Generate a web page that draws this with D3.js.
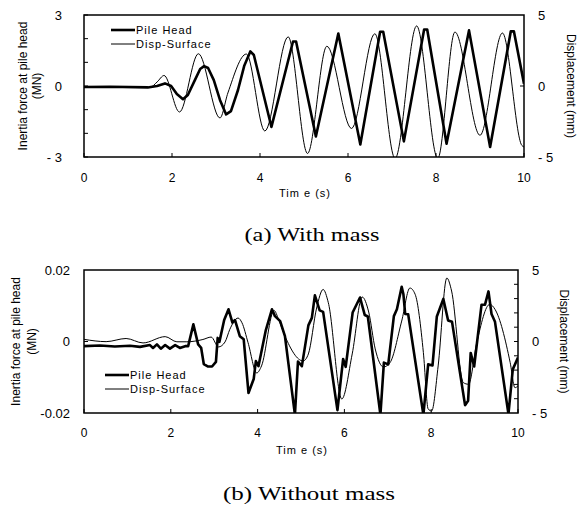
<!DOCTYPE html>
<html>
<head>
<meta charset="utf-8">
<script src="https://cdn.jsdelivr.net/npm/d3@7"></script>
<style>
body{margin:0;background:#fff;}
text{font-family:"Liberation Sans",Arial,sans-serif;fill:#000;}
.cap{font-family:"Liberation Serif","Times New Roman",serif;}
</style>
</head>
<body>
<script>
// time ticks shared by both panels
var timeTicks = [0,2,4,6,8,10];

// (a) with mass : [time s, value]
var pileHeadA = [[0,-0.04],[0.59,-0.03],[1.45,-0.06],[1.66,0.0],[1.84,0.11],[1.98,0.0],[2.11,-0.34],[2.25,-0.56],
	[2.36,-0.38],[2.52,0.25],[2.64,0.72],[2.73,0.84],[2.82,0.76],[2.95,0.25],[3.09,-0.59],[3.23,-1.2],[3.34,-1.06],
	[3.5,-0.17],[3.64,0.84],[3.78,1.46],[3.86,1.31],[4.26,-1.73],[4.75,1.88],[4.82,1.88],[5.27,-2.13],
	[5.78,2.22],[6.28,-2.47],[6.73,2.29],[6.8,2.29],[7.27,-2.34],[7.73,2.39],[7.8,2.39],[8.24,-2.44],[8.75,2.35],
	[9.23,-2.58],[9.7,2.31],[9.77,2.31],[10,0.1]];
var dispSurfaceA = [[0,-0.04],[1.5,-0.1],[1.66,0.28],[1.82,0.74],[2.17,-1.83],[2.6,2.27],[3.09,-2.25],[3.27,-0.49],
	[3.69,2.25],[4.11,-3.17],[4.64,3.46],[5.08,-4.75],[5.52,2.8],[6.08,-2.99],[6.61,3.68],[7.07,-5.1],[7.56,4.23],
	[8.04,-5.1],[8.43,3.8],[9.0,-3.47],[9.51,3.73],[9.95,-4.18],[10,-4.3]];

// (b) without mass
var pileHeadB = [[0,-0.0013],[0.37,-0.0011],[0.71,-0.0014],[1.06,-0.0012],[1.29,-0.0015],[1.52,-0.001],[1.59,-0.0018],
	[1.68,-0.0008],[1.77,-0.002],[1.87,-0.001],[1.98,-0.002],[2.1,-0.001],[2.21,-0.0018],[2.33,-0.0013],[2.4,-0.0013],
	[2.52,0.0048],[2.63,-0.0008],[2.7,-0.0018],[2.76,-0.0063],[2.86,-0.007],[2.95,-0.007],[3.04,-0.0057],[3.08,0.001],
	[3.12,-0.0001],[3.23,0.006],[3.33,0.009],[3.42,0.0053],[3.48,0.006],[3.59,0.0015],[3.68,0.0006],[3.79,-0.0144],
	[3.91,-0.0105],[3.96,-0.0055],[4.02,-0.0069],[4.19,0.0032],[4.33,0.009],[4.4,0.0071],[4.52,0.0057],[4.63,0.0015],
	[4.86,-0.0205],[4.93,-0.0056],[5.02,-0.0069],[5.17,0.0045],[5.25,0.0066],[5.32,0.0129],[5.43,0.0087],[5.51,0.0083],
	[5.84,-0.0192],[5.97,-0.0049],[6.03,-0.0071],[6.19,0.0081],[6.36,0.0123],[6.47,0.0074],[6.54,0.007],[6.83,-0.0205],
	[6.91,-0.0059],[7.01,-0.0064],[7.14,0.0071],[7.21,0.009],[7.32,0.0153],[7.36,0.0132],[7.4,0.0077],[7.47,0.0076],
	[7.82,-0.0205],[7.93,-0.0064],[8.03,-0.0067],[8.13,0.007],[8.28,0.0119],[8.39,0.0059],[8.48,0.0055],[8.78,-0.0178],
	[8.85,-0.0166],[8.91,-0.0032],[8.99,-0.007],[9.16,0.0103],[9.24,0.0103],[9.32,0.014],[9.39,0.0077],[9.47,0.0055],
	[9.78,-0.0203],[9.88,-0.0078],[10,-0.0045]];
var dispSurfaceB = [[0,0.15],[0.51,-0.01],[0.97,0.21],[1.36,-0.1],[1.87,0.34],[2.14,-0.02],[2.37,-0.02],[2.74,0.14],
	[2.93,0.31],[3.1,-0.38],[3.25,-0.03],[3.36,0.85],[3.55,1.64],[3.64,1.31],[3.78,-0.08],[3.98,-2.2],[4.09,-1.71],
	[4.38,2.17],[4.48,1.57],[4.63,0.38],[5.05,-1.36],[5.17,-0.87],[5.36,2.34],[5.51,3.64],[5.63,2.71],[5.94,-4.02],
	[6.18,-0.87],[6.41,3.11],[6.56,2.06],[6.71,-0.52],[6.9,-1.78],[7.05,-1.48],[7.32,1.43],[7.51,3.74],[7.63,3.3],
	[7.82,-0.78],[7.93,-4.72],[8.01,-4.86],[8.16,-1.71],[8.36,4.44],[8.47,3.53],[8.74,-2.88],[8.86,-2.99],[9.05,-0.08],
	[9.35,2.6],[9.47,2.25],[9.82,-1.48],[9.93,-3.23],[10,-3.11]];

// axis ticks and labels
var forceTicksA = [-3,-2,-1,0,1,2,3];
var forceLabelsA = [[3,"3"],[0,"0"],[-3,"- 3"]];
var forceTicksB = [0];
var forceLabelsB = [[0.02,"0.02"],[0,"0"],[-0.02,"-0.02"]];
var dispTicksA = [0];
var dispTicksB = [-4,-3,-2,-1,0,1,2,3,4];
var dispLabels = [[5,"5"],[0,"0"],[-5,"- 5"]];

var w = 586, h = 505;

var svg = d3.select("body").append("svg")
	.attr("width",w)
	.attr("height",h);

var panels = [
	{id:"a", x0:84, x1:524, y0:15, y1:157, fDom:[-3,3], fTicks:forceTicksA, fLabels:forceLabelsA, fLabX:62,
	 dTicks:dispTicksA, pile:pileHeadA, disp:dispSurfaceA, legX:111, legY:30, t1:26.5, t2:40.5, rT:567,
	 xLabY:182, timeY:197, cap:"(a) With mass", capY:241, capW:135},
	{id:"b", x0:84, x1:518, y0:270, y1:413, fDom:[-0.02,0.02], fTicks:forceTicksB, fLabels:forceLabelsB, fLabX:70,
	 dTicks:dispTicksB, pile:pileHeadB, disp:dispSurfaceB, legX:105, legY:375, t1:19.5, t2:35.5, rT:560,
	 xLabY:437, timeY:454, cap:"(b) Without mass", capY:500, capW:172}
];

panels.forEach(function(p){
	var xScale = d3.scaleLinear().domain([0,10]).range([p.x0,p.x1]);
	var yF = d3.scaleLinear().domain(p.fDom).range([p.y1,p.y0]);
	var yD = d3.scaleLinear().domain([-5,5]).range([p.y1,p.y0]);
	var midY = (p.y0+p.y1)/2;

	svg.append("clipPath").attr("id","clip"+p.id)
		.append("rect")
		.attr("x",p.x0).attr("y",p.y0)
		.attr("width",p.x1-p.x0).attr("height",p.y1-p.y0);

	var g = svg.append("g").attr("clip-path","url(#clip"+p.id+")");

	g.append("path")
		.datum(p.disp)
		.attr("fill","none")
		.attr("stroke","#000")
		.attr("stroke-width",1)
		.attr("d",d3.line().curve(d3.curveMonotoneX)
			.x(function(d){return xScale(d[0]);})
			.y(function(d){return yD(d[1]);}));

	g.append("path")
		.datum(p.pile)
		.attr("fill","none")
		.attr("stroke","#000")
		.attr("stroke-width",2.6)
		.attr("stroke-linejoin","round")
		.attr("d",d3.line()
			.x(function(d){return xScale(d[0]);})
			.y(function(d){return yF(d[1]);}));

	// frame
	svg.append("rect")
		.attr("x",p.x0).attr("y",p.y0)
		.attr("width",p.x1-p.x0).attr("height",p.y1-p.y0)
		.attr("fill","none")
		.attr("stroke","#000")
		.attr("stroke-width",1.5);

	// inward ticks
	svg.selectAll(".xt"+p.id).data(timeTicks).enter().append("line")
		.attr("x1",function(d){return xScale(d);}).attr("x2",function(d){return xScale(d);})
		.attr("y1",p.y1).attr("y2",p.y1-4)
		.attr("stroke","#000");
	svg.selectAll(".ft"+p.id).data(p.fTicks).enter().append("line")
		.attr("x1",p.x0).attr("x2",p.x0+4)
		.attr("y1",function(d){return yF(d);}).attr("y2",function(d){return yF(d);})
		.attr("stroke","#000");
	svg.selectAll(".dt"+p.id).data(p.dTicks).enter().append("line")
		.attr("x1",p.x1).attr("x2",p.x1-4)
		.attr("y1",function(d){return yD(d);}).attr("y2",function(d){return yD(d);})
		.attr("stroke","#000");

	// tick labels
	svg.selectAll(".xl"+p.id).data(timeTicks).enter().append("text")
		.attr("x",function(d){return xScale(d);})
		.attr("y",p.xLabY)
		.attr("text-anchor","middle")
		.attr("font-size",12)
		.text(function(d){return d;});
	svg.selectAll(".fl"+p.id).data(p.fLabels).enter().append("text")
		.attr("x",p.fLabX)
		.attr("y",function(d){return yF(d[0])+4.5;})
		.attr("text-anchor","end")
		.attr("font-size",13)
		.text(function(d){return d[1];});
	svg.selectAll(".dl"+p.id).data(dispLabels).enter().append("text")
		.attr("x",p.x1+14)
		.attr("y",function(d){return yD(d[0])+4.5;})
		.attr("font-size",13)
		.text(function(d){return d[1];});

	// axis titles
	svg.append("text")
		.attr("x",(p.x0+p.x1)/2+1)
		.attr("y",p.timeY)
		.attr("text-anchor","middle")
		.attr("font-size",11)
		.attr("letter-spacing",1)
		.text("Tim e (s)");
	svg.append("text")
		.attr("transform","translate("+p.t1+","+midY+") rotate(-90)")
		.attr("text-anchor","middle")
		.attr("font-size",12)
		.text("Inertia force at pile head");
	svg.append("text")
		.attr("transform","translate("+p.t2+","+midY+") rotate(-90)")
		.attr("text-anchor","middle")
		.attr("font-size",12)
		.text("(MN)");
	svg.append("text")
		.attr("transform","translate("+p.rT+","+midY+") rotate(90)")
		.attr("text-anchor","middle")
		.attr("font-size",12)
		.text("Displacement (mm)");

	// legend
	var leg = [["Pile Head",2.6],["Disp-Surface",1]];
	leg.forEach(function(l,i){
		var ly = p.legY + i*14;
		svg.append("line")
			.attr("x1",p.legX).attr("x2",p.legX+24)
			.attr("y1",ly).attr("y2",ly)
			.attr("stroke","#000")
			.attr("stroke-width",l[1]);
		svg.append("text")
			.attr("x",p.legX+25)
			.attr("y",ly+4)
			.attr("font-size",11)
			.attr("letter-spacing",1)
			.text(l[0]);
	});

	// caption
	svg.append("text")
		.attr("class","cap")
		.attr("x",(p.x0+p.x1)/2+8)
		.attr("y",p.capY)
		.attr("text-anchor","middle")
		.attr("font-size",19)
		.attr("textLength",p.capW)
		.attr("lengthAdjust","spacingAndGlyphs")
		.text(p.cap);
});
</script>
</body>
</html>
